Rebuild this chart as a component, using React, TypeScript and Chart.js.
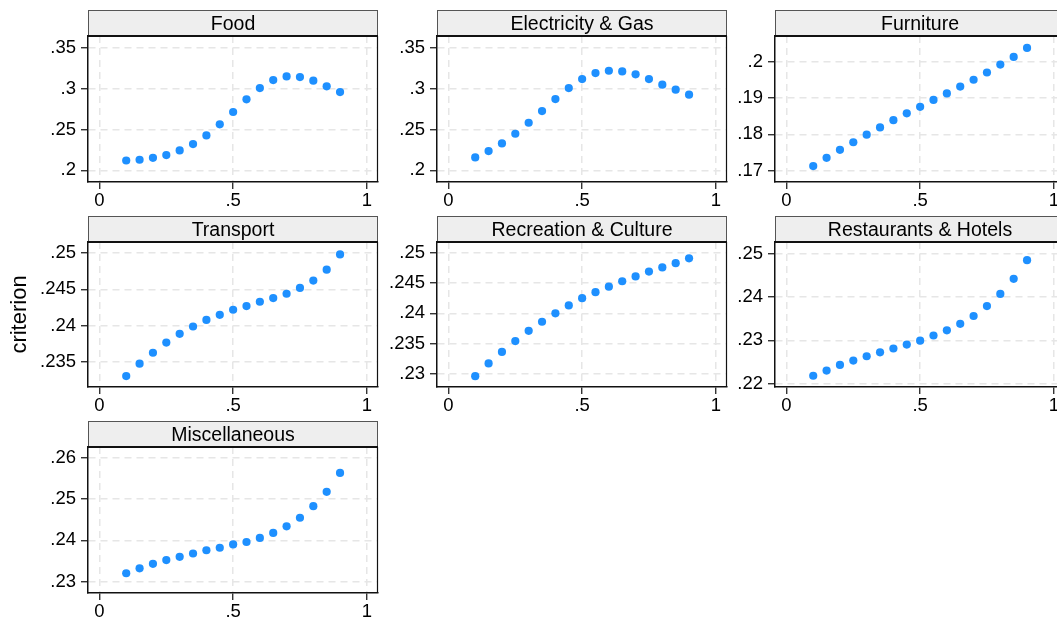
import React, { useEffect, useRef } from "react";
import { Chart, registerables } from "chart.js";

Chart.register(...registerables);

// ---------- data ----------
const quantiles = [0.1, 0.15, 0.2, 0.25, 0.3, 0.35, 0.4, 0.45, 0.5, 0.55, 0.6, 0.65, 0.7, 0.75, 0.8, 0.85, 0.9];

const food = [0.212, 0.2129, 0.2153, 0.2186, 0.2243, 0.2321, 0.2427, 0.2562, 0.2713, 0.2868, 0.3006, 0.3104, 0.3149, 0.3141, 0.3096, 0.3027, 0.2957];
const electricityGas = [0.2158, 0.2235, 0.2329, 0.2447, 0.2582, 0.2725, 0.2872, 0.3006, 0.3116, 0.319, 0.3218, 0.321, 0.3174, 0.3116, 0.3047, 0.2986, 0.2925];
const furniture = [0.1712, 0.1735, 0.1757, 0.1778, 0.1799, 0.1819, 0.1839, 0.1858, 0.1876, 0.1895, 0.1913, 0.1932, 0.1951, 0.1971, 0.1993, 0.2014, 0.2039];
const transport = [0.2331, 0.2348, 0.2363, 0.2377, 0.2389, 0.2399, 0.2408, 0.2415, 0.2422, 0.2427, 0.2433, 0.2438, 0.2444, 0.2452, 0.2462, 0.2477, 0.2498];
const recreation = [0.2296, 0.2317, 0.2336, 0.2354, 0.2371, 0.2386, 0.24, 0.2413, 0.2425, 0.2435, 0.2444, 0.2453, 0.2461, 0.2469, 0.2476, 0.2483, 0.2491];
const restaurants = [0.2218, 0.223, 0.2243, 0.2253, 0.2263, 0.2272, 0.2281, 0.229, 0.2299, 0.2311, 0.2323, 0.2338, 0.2356, 0.2379, 0.2407, 0.2442, 0.2485];
const miscellaneous = [0.232, 0.2332, 0.2343, 0.2352, 0.236, 0.2368, 0.2376, 0.2382, 0.239, 0.2396, 0.2406, 0.2418, 0.2434, 0.2455, 0.2483, 0.2518, 0.2564];

const categories = ["Food", "Electricity & Gas", "Furniture", "Transport", "Recreation & Culture", "Restaurants & Hotels", "Miscellaneous"];
const seriesValues = [food, electricityGas, furniture, transport, recreation, restaurants, miscellaneous];

const xTicks = [0, 0.5, 1];
const foodTicks = [0.2, 0.25, 0.3, 0.35];
const electricityTicks = [0.2, 0.25, 0.3, 0.35];
const furnitureTicks = [0.17, 0.18, 0.19, 0.2];
const transportTicks = [0.235, 0.24, 0.245, 0.25];
const recreationTicks = [0.23, 0.235, 0.24, 0.245, 0.25];
const restaurantTicks = [0.22, 0.23, 0.24, 0.25];
const miscTicks = [0.23, 0.24, 0.25, 0.26];
const yTickSets = [foodTicks, electricityTicks, furnitureTicks, transportTicks, recreationTicks, restaurantTicks, miscTicks];

// axis ranges (with Stata-like padding)
const yMins = [0.1857, 0.1857, 0.1668, 0.2316, 0.2278, 0.2192, 0.2272];
const yMaxs = [0.3643, 0.3643, 0.2072, 0.2515, 0.2518, 0.2527, 0.2627];
const xMin = -0.043;
const xMax = 1.042;
const yAxisTitle = "criterion";

// ---------- layout ----------
const FONT = '"Liberation Sans", Arial, Helvetica, sans-serif';
const colAreaLeft = [88, 437, 775];
const colAxisWidth = [88, 60, 60];
const rowTop = [10, 216, 421];
const rowPlotH = [146, 145, 146];
const STRIP_H = 26;
const PLOT_W = 290;
const XAXIS_H = 34;
const RIGHT_PAD = 3;
const TICK_FONT = 18.5;
const STRIP_FONT = 19.5;

const fmt = (v: number) => {
  const s = String(v);
  return s.startsWith("0.") ? s.slice(1) : s;
};

const stripPlugin = {
  id: "strip",
  beforeDraw(chart: any) {
    const tb = chart.titleBlock;
    if (!tb) return;
    const ctx = chart.ctx;
    ctx.save();
    ctx.fillStyle = "#eeeeee";
    ctx.fillRect(tb.left, tb.top, tb.width, tb.height);
    ctx.strokeStyle = "#555";
    ctx.lineWidth = 1;
    ctx.strokeRect(tb.left + 0.5, tb.top + 0.5, tb.width - 1, tb.height);
    ctx.restore();
  },
  afterDraw(chart: any) {
    const a = chart.chartArea;
    const ctx = chart.ctx;
    ctx.save();
    ctx.strokeStyle = "#111";
    ctx.lineWidth = 1.2;
    ctx.beginPath();
    ctx.moveTo(a.right - 0.5, a.top);
    ctx.lineTo(a.right - 0.5, a.bottom);
    ctx.stroke();
    ctx.lineWidth = 2;
    ctx.beginPath();
    ctx.moveTo(a.left, a.top);
    ctx.lineTo(a.right, a.top);
    ctx.stroke();
    ctx.restore();
  },
};

function Panel({ index }: { index: number }) {
  const ref = useRef<HTMLCanvasElement>(null);
  const col = index % 3;
  const row = Math.floor(index / 3);
  const axisW = colAxisWidth[col];
  const width = axisW + PLOT_W + RIGHT_PAD;
  const height = STRIP_H + rowPlotH[row] + XAXIS_H;
  const left = colAreaLeft[col] - axisW;
  const top = rowTop[row];
  const showYTitle = index === 3;

  useEffect(() => {
    const values = seriesValues[index];
    const yt = yTickSets[index];
    const chart = new Chart(ref.current!, {
      type: "scatter",
      data: {
        datasets: [
          {
            data: quantiles.map((x, i) => ({ x, y: values[i] })),
            backgroundColor: "#1e90ff",
            borderWidth: 0,
            pointRadius: 4.1,
            pointHoverRadius: 4.1,
          },
        ],
      },
      options: {
        animation: false,
        responsive: false,
        events: [],
        layout: { autoPadding: false, padding: { left: 0, right: RIGHT_PAD, top: 0, bottom: 0 } },
        plugins: {
          legend: { display: false },
          tooltip: { enabled: false },
          title: {
            display: true,
            text: categories[index],
            fullSize: false,
            color: "#000",
            font: { family: FONT, size: STRIP_FONT, weight: "normal", lineHeight: 1.2 },
            padding: { top: 2.6, bottom: 0 },
          },
        },
        scales: {
          x: {
            type: "linear",
            min: xMin,
            max: xMax,
            afterBuildTicks: (s: any) => {
              s.ticks = xTicks.map((v) => ({ value: v }));
            },
            afterFit: (s: any) => {
              s.height = XAXIS_H;
            },
            ticks: {
              callback: (v: any) => fmt(Number(v)),
              color: "#000",
              font: { family: FONT, size: TICK_FONT },
              padding: 1,
              maxRotation: 0,
              autoSkip: false,
            },
            grid: {
              color: "#e6e6e6",
              lineWidth: 1.5,
              tickLength: 7,
              tickColor: "#111",
              tickWidth: 1.2,
            },
            border: { display: true, color: "#111", width: 1.5, dash: [7, 5] },
          },
          y: {
            type: "linear",
            min: yMins[index],
            max: yMaxs[index],
            afterBuildTicks: (s: any) => {
              s.ticks = yt.map((v) => ({ value: v }));
            },
            afterFit: (s: any) => {
              s.width = axisW;
            },
            ticks: {
              callback: (v: any) => fmt(Number(v)),
              color: "#000",
              font: { family: FONT, size: TICK_FONT },
              padding: 5,
              autoSkip: false,
            },
            grid: {
              color: "#e6e6e6",
              lineWidth: 1.5,
              tickLength: 7,
              tickColor: "#111",
              tickWidth: 1.2,
            },
            border: { display: true, color: "#111", width: 1.5, dash: [7, 5] },
            title: {
              display: showYTitle,
              text: yAxisTitle,
              color: "#000",
              font: { family: FONT, size: 22, lineHeight: 1.2 },
              padding: { top: 6.5, bottom: 0 },
            },
          },
        },
      },
      plugins: [stripPlugin],
    } as any);
    return () => chart.destroy();
  }, [index]);

  return (
    <canvas
      ref={ref}
      width={width}
      height={height}
      style={{ position: "absolute", left, top, width, height }}
    />
  );
}

export default function App() {
  return (
    <div
      style={{
        position: "absolute",
        left: 0,
        top: 0,
        width: 1057,
        height: 620,
        overflow: "hidden",
        background: "#fff",
      }}
    >
      {categories.map((_, i) => (
        <Panel key={i} index={i} />
      ))}
    </div>
  );
}
